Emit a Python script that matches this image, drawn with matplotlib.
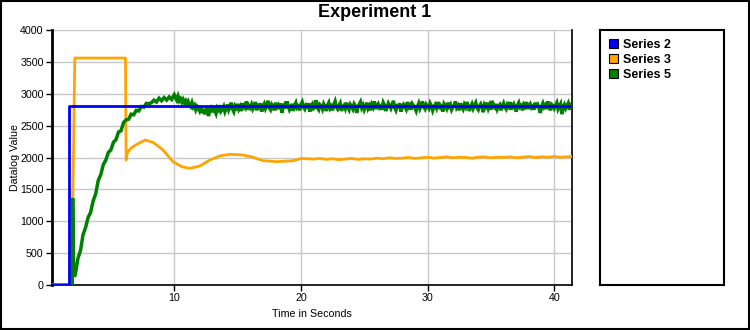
import matplotlib.pyplot as plt
import numpy as np
from matplotlib.patches import Patch, Rectangle

plt.rcParams['font.family'] = ['Liberation Sans', 'DejaVu Sans']

# Series 2 (set point step)
blue_t = [0.35, 1.72, 1.72, 41.4]
blue_v = [0, 0, 2810, 2810]

# Series 3 (transient key points, then steady part every 0.5 s from 20.5 s)
orange_t = [0.35, 1.9, 2.15, 6.15, 6.2, 6.3, 6.6, 7.0, 7.7, 8.35, 9.1, 9.9, 10.6, 11.2,
            12.0, 12.8, 13.6, 14.4, 15.4, 16.2, 17.0, 18.1, 19.4, 20.0]
orange_v = [0, 0, 3560, 3560, 1960, 2080, 2150, 2200, 2275, 2235, 2120, 1935, 1855, 1830,
            1865, 1960, 2025, 2050, 2040, 2005, 1950, 1935, 1950, 1985]
orange_steady_start = 20.5
orange_steady_step = 0.5
orange_steady = [1980, 1975, 1985, 1970, 1980, 1965, 1975, 1985, 1970, 1980,
                 1975, 1990, 1980, 1995, 1985, 1990, 2000, 1985, 1995, 2005,
                 1990, 2000, 2010, 1995, 2005, 2000, 1990, 2005, 2010, 1995,
                 2005, 2000, 2010, 1995, 2005, 2015, 2000, 2010, 2005, 2015,
                 2005, 2010, 2015]

# Series 5: spike at start, rise logged every 0.2 s (2.2-10.0 s),
# then steady part logged every 0.1 s (10.1-41.4 s)
green_head_t = [0.35, 1.95, 1.98, 2.05, 2.12]
green_head_v = [0, 0, 1365, 300, 130]
green_rise_start = 2.2
green_rise_step = 0.2
green_rise = [180, 420, 540, 790, 900, 1060, 1140, 1320, 1430, 1640,
              1730, 1890, 1960, 2080, 2120, 2240, 2280, 2400, 2420, 2550,
              2590, 2600, 2680, 2670, 2740, 2730, 2800, 2790, 2850, 2840,
              2860, 2900, 2870, 2930, 2890, 2940, 2900, 2950, 2910, 2985]
green_steady_start = 10.1
green_steady_step = 0.1
green_steady = [
    2940, 2900, 2960, 2890, 2920, 2870, 2910, 2860, 2890, 2840, 2880, 2830, 2800, 2860, 2790, 2820, 2750, 2800, 2770, 2730,
    2790, 2700, 2760, 2680, 2740, 2790, 2650, 2730, 2770, 2710, 2800, 2740, 2690, 2780, 2750, 2820, 2730, 2760, 2800, 2720,
    2770, 2830, 2750, 2800, 2860, 2760, 2720, 2810, 2780, 2840, 2760, 2800, 2730, 2850, 2790, 2770, 2880, 2750, 2810, 2780,
    2830, 2760, 2800, 2870, 2740, 2810, 2790, 2850, 2720, 2800, 2840, 2770, 2820, 2890, 2780, 2750, 2830, 2800, 2740, 2860,
    2790, 2820, 2760, 2850, 2700, 2800, 2830, 2770, 2880, 2810, 2750, 2790, 2840, 2730, 2820, 2860, 2780, 2800, 2740, 2830,
    2870, 2790, 2760, 2820, 2800, 2850, 2720, 2810, 2840, 2770, 2790, 2900, 2780, 2750, 2830, 2810, 2760, 2840, 2800, 2730,
    2820, 2860, 2770, 2800, 2740, 2830, 2880, 2790, 2760, 2810, 2850, 2730, 2800, 2820, 2770, 2860, 2790, 2750, 2830, 2800,
    2760, 2840, 2810, 2700, 2790, 2830, 2870, 2780, 2820, 2750, 2800, 2860, 2770, 2810, 2740, 2830, 2790, 2880, 2760, 2810,
    2840, 2780, 2800, 2750, 2860, 2820, 2730, 2790, 2850, 2810, 2770, 2830, 2890, 2780, 2740, 2810, 2800, 2850, 2720, 2790,
    2830, 2800, 2760, 2870, 2790, 2820, 2750, 2840, 2810, 2780, 2730, 2800, 2850, 2770, 2820, 2880, 2790, 2760, 2830, 2800,
    2770, 2850, 2810, 2740, 2800, 2830, 2780, 2870, 2760, 2820, 2790, 2720, 2840, 2810, 2770, 2860, 2800, 2830, 2750, 2790,
    2820, 2880, 2780, 2810, 2740, 2850, 2800, 2760, 2830, 2790, 2870, 2810, 2730, 2800, 2840, 2770, 2820, 2860, 2780, 2750,
    2810, 2840, 2790, 2710, 2830, 2800, 2860, 2770, 2820, 2750, 2890, 2800, 2780, 2840, 2760, 2810, 2830, 2740, 2800, 2850,
    2790, 2760, 2830, 2800, 2870, 2750, 2810, 2840, 2780, 2720, 2820, 2860, 2790, 2810, 2740, 2830, 2800, 2870, 2760, 2810,
    2840, 2780, 2800, 2750, 2860, 2810, 2830, 2770, 2700, 2800, 2850, 2790, 2820, 2760, 2880, 2800, 2740, 2830, 2810, 2770,
    2820, 2860, 2760, 2800, 2840, 2680, 2790, 2830, 2770, 2810, 2850, 2750, 2820, 2800]

series_names = ['Series 2', 'Series 3', 'Series 5']
series_colors = ['#0000FF', '#FFA500', '#008000']
yticks = [0, 500, 1000, 1500, 2000, 2500, 3000, 3500, 4000]
xticks = [10, 20, 30, 40]

fig = plt.figure(figsize=(7.5, 3.3), dpi=100)
fig.patches.append(Rectangle((0.001, 0.002), 0.997, 0.995, transform=fig.transFigure,
                             fill=False, edgecolor='black', linewidth=1.5))

ax = fig.add_axes([52 / 750, 45 / 330, 520 / 750, 255 / 330])

o_t = orange_t + list(orange_steady_start + orange_steady_step * np.arange(len(orange_steady)))
o_v = orange_v + orange_steady
g_t = (green_head_t
       + list(green_rise_start + green_rise_step * np.arange(len(green_rise)))
       + list(green_steady_start + green_steady_step * np.arange(len(green_steady))))
g_v = green_head_v + green_rise + green_steady

ax.plot(o_t, o_v, color=series_colors[1], linewidth=2, zorder=3)
ax.plot(g_t, g_v, color=series_colors[2], linewidth=2.5, solid_joinstyle='miter', zorder=4)
ax.plot(blue_t, blue_v, color=series_colors[0], linewidth=2, zorder=5)

ax.set_xlim(0.35, 41.4)
ax.set_ylim(0, 4000)
ax.set_xticks(xticks)
ax.set_yticks(yticks)
ax.grid(True, color='#C8C8C8', linewidth=1)
ax.set_axisbelow(True)
ax.spines['top'].set_visible(False)
ax.spines['left'].set_linewidth(2)
ax.spines['bottom'].set_linewidth(1.2)
ax.spines['right'].set_linewidth(1.2)
ax.tick_params(axis='both', labelsize=7.7, length=4, width=1, pad=2)
ax.set_xlabel('Time in Seconds', fontsize=7.7, labelpad=4)
ax.set_ylabel('Datalog Value', fontsize=7.7)
ax.yaxis.set_label_coords(-0.062, 0.5)
fig.text(0.5, 0.962, 'Experiment 1', ha='center', va='center', fontsize=13, fontweight='bold')

# legend panel
lax = fig.add_axes([600 / 750, 45 / 330, 124 / 750, 255 / 330])
lax.set_xticks([])
lax.set_yticks([])
for s in lax.spines.values():
    s.set_linewidth(1.5)
handles = [Patch(facecolor=c, edgecolor='black', linewidth=0.8, label=n)
           for n, c in zip(series_names, series_colors)]
lax.legend(handles=handles, loc='upper left', frameon=False, prop={'weight': 'bold', 'size': 9},
           handlelength=0.75, handleheight=0.75, handletextpad=0.4, labelspacing=0.25,
           borderaxespad=0.3)

fig.savefig('out.png', dpi=100)
